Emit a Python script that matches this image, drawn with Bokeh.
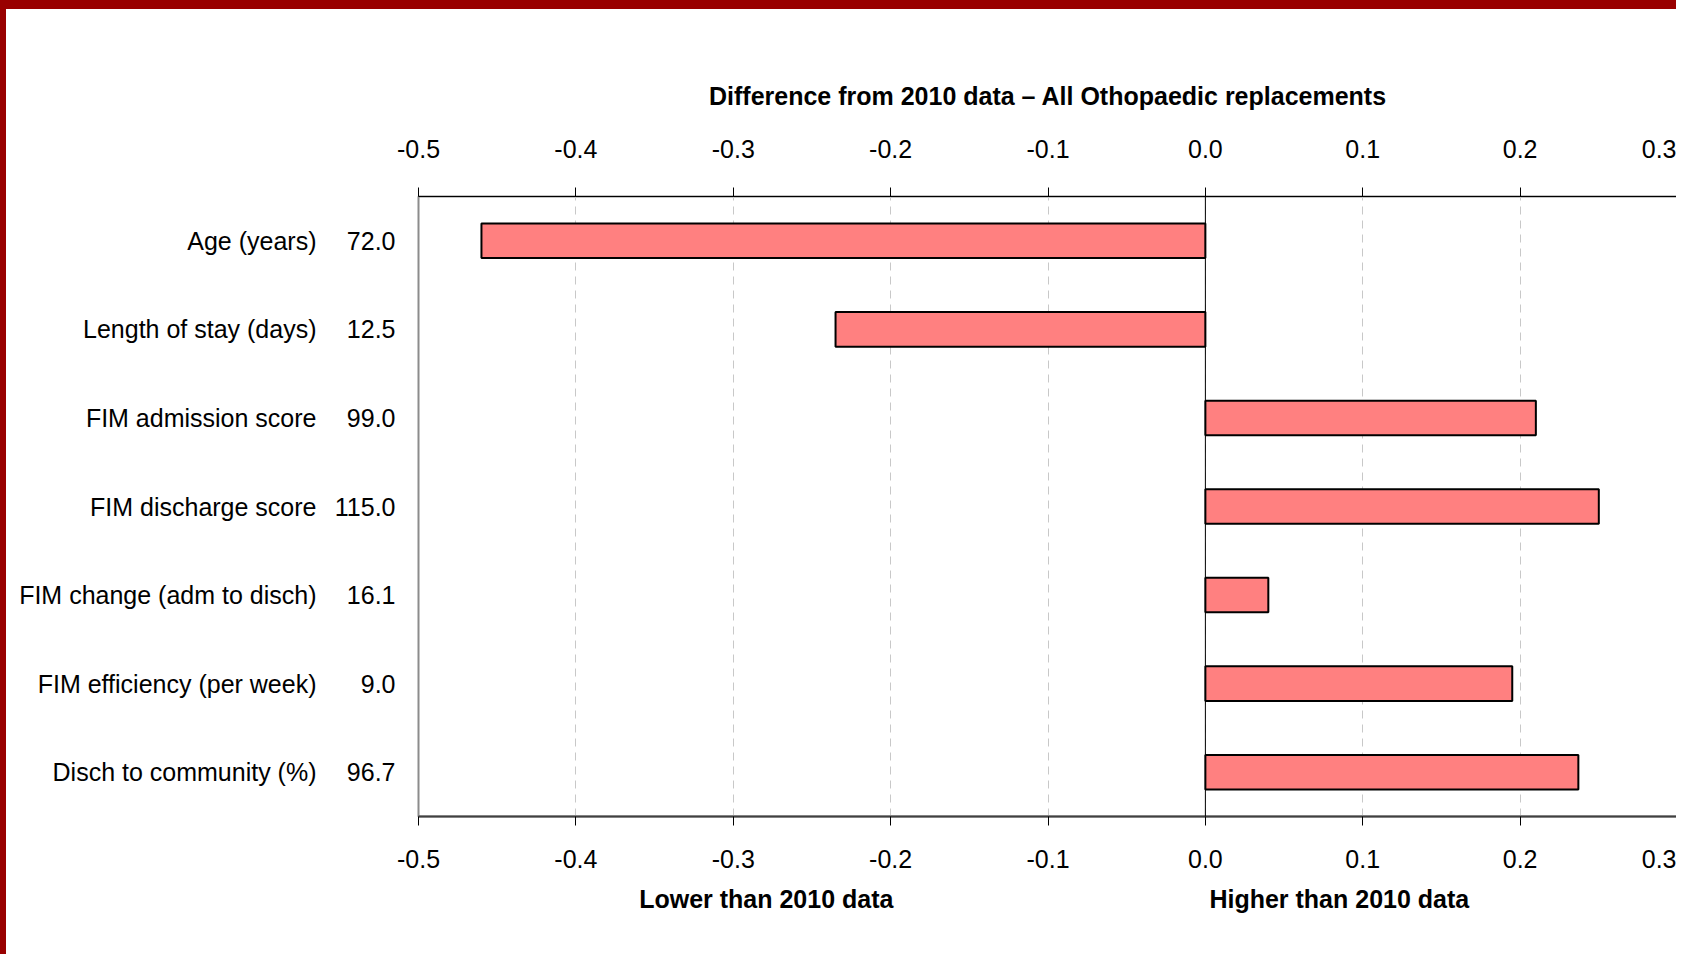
from bokeh.plotting import figure
from bokeh.models import (Range1d, LinearAxis, FixedTicker, Label,
                          NumeralTickFormatter, CustomJSTickFormatter, Span, ColumnDataSource)
from bokeh.embed import file_html
from bokeh.resources import INLINE

categories = ["Age (years)", "Length of stay (days)", "FIM admission score",
              "FIM discharge score", "FIM change (adm to disch)",
              "FIM efficiency (per week)", "Disch to community (%)"]
values_2010 = ["72.0", "12.5", "99.0", "115.0", "16.1", "9.0", "96.7"]
differences = [-0.46, -0.235, 0.21, 0.25, 0.04, 0.195, 0.237]
x_ticks = [-0.5, -0.4, -0.3, -0.2, -0.1, 0.0, 0.1, 0.2, 0.3]
side_labels = ["Lower than 2010 data", "Higher than 2010 data"]
side_label_pos = [-0.279, 0.0851]
header_label = "2010"

FONT = "'Liberation Sans', Arial, sans-serif"
FS = "25px"

n = len(categories)
row_pos = [n - i - 0.5 for i in range(n)]   # first category at the top

W, H = 1676, 954
p = figure(width=W, height=H,
           y_range=Range1d(0, n), x_range=Range1d(-0.5, 0.3),
           x_axis_location="above", y_axis_location=None,
           output_backend="svg", toolbar_location=None)
p.styles = {"border-top": "9px solid #990000", "border-left": "6px solid #990000"}
p.min_border_left = 412
p.min_border_right = 5
p.min_border_top = 187
p.min_border_bottom = 147
p.outline_line_color = "#8c8c8c"
p.outline_line_width = 2
p.background_fill_color = "white"
p.border_fill_color = "white"

src = ColumnDataSource(dict(y=row_pos, diff=differences, cat=categories))
p.hbar(y="y", left=0, right="diff", height=0.39, source=src,
       fill_color="#ff8080", line_color="black", line_width=2)

p.add_layout(Span(location=0, dimension="height", line_color="black", line_width=1))

p.xgrid.ticker = FixedTicker(ticks=x_ticks)
p.xgrid.grid_line_color = "#c8c8c8"
p.xgrid.grid_line_dash = "8 6"
p.ygrid.grid_line_color = None

def style_x(ax):
    ax.ticker = FixedTicker(ticks=x_ticks)
    ax.formatter = NumeralTickFormatter(format="0.0")
    ax.major_tick_out = 9
    ax.major_tick_in = 0
    ax.minor_tick_line_color = None
    ax.major_tick_line_color = "black"
    ax.major_label_text_font = FONT
    ax.major_label_text_font_size = FS
    ax.major_label_text_color = "black"

top = p.xaxis[0]
style_x(top)
top.axis_line_color = "black"
top.axis_line_width = 1
top.major_label_standoff = 30
top.axis_label = "Difference from 2010 data \u2013 All Othopaedic replacements"
top.axis_label_text_font = FONT
top.axis_label_text_font_size = FS
top.axis_label_text_font_style = "bold"
top.axis_label_text_color = "black"
top.axis_label_standoff = 27

bottom = LinearAxis()
style_x(bottom)
bottom.axis_line_color = "#404040"
bottom.axis_line_width = 2
bottom.major_label_standoff = 24
p.add_layout(bottom, "below")

side = LinearAxis(ticker=FixedTicker(ticks=side_label_pos),
                  formatter=CustomJSTickFormatter(
                      args=dict(labels=side_labels),
                      code="return tick < 0 ? labels[0] : labels[1];"))
side.axis_line_color = None
side.major_tick_line_color = None
side.major_tick_out = 0
side.minor_tick_line_color = None
side.major_label_standoff = 14
side.major_label_text_font = FONT
side.major_label_text_font_size = FS
side.major_label_text_font_style = "bold"
side.major_label_text_color = "black"
p.add_layout(side, "below")

def style_y(ax, standoff):
    ax.axis_line_color = None
    ax.major_tick_line_color = None
    ax.major_tick_out = 0
    ax.major_tick_in = 0
    ax.minor_tick_line_color = None
    ax.major_label_standoff = standoff
    ax.major_label_text_font = FONT
    ax.major_label_text_font_size = FS
    ax.major_label_text_color = "black"

vax = LinearAxis(ticker=FixedTicker(ticks=row_pos),
                 formatter=CustomJSTickFormatter(
                     args=dict(labels=values_2010, n=n),
                     code="return labels[Math.round(n - 0.5 - tick)];"))
style_y(vax, 23)
p.add_layout(vax, "left")

nax = LinearAxis(ticker=FixedTicker(ticks=row_pos),
                 formatter=CustomJSTickFormatter(
                     args=dict(labels=categories, n=n),
                     code="return labels[Math.round(n - 0.5 - tick)];"))
style_y(nax, 15)
p.add_layout(nax, "left")

# "2010" header above the value column (overlay level so it is not clipped to the frame)
p.add_layout(Label(x=-0.5115, y=n + 0.11, text=header_label, level="overlay",
                   text_align="right", text_baseline="middle",
                   text_font=FONT, text_font_size=FS, text_font_style="bold",
                   text_color="black"))

open("out.html", "w").write(file_html(p, INLINE))
